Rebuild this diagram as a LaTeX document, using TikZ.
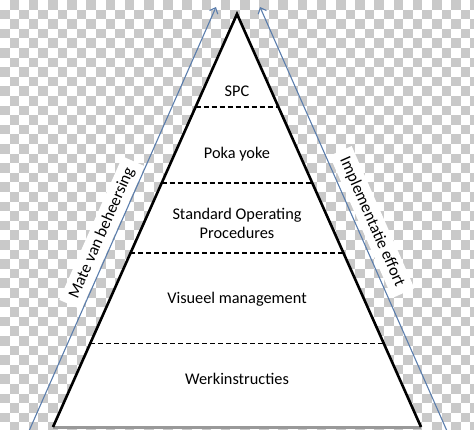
\documentclass[tikz,border=0pt]{standalone}
\usepackage{fontspec}
\setmainfont{Carlito}
\usetikzlibrary{calc,arrows.meta}
\definecolor{pijl}{RGB}{90,125,172}
\tikzset{
laag/.style={font=\fontsize{16.3}{19}\selectfont, align=center},
zijlabel/.style={font=\fontsize{16.5}{19}\selectfont, fill=white, inner xsep=8pt, inner ysep=5pt},
scheiding/.style={line width=1.3pt, dash pattern=on 5pt off 3pt},
pijlstijl/.style={pijl, line width=1.1pt, -{Straight Barb[length=5pt,width=9pt]}}
}
\begin{document}
\begin{tikzpicture}[x=1pt,y=-1pt]
\useasboundingbox (0,0) rectangle (474,429);
% achtergrond
\foreach \j [evaluate=\j as \off using {int(mod(\j+1,2))}] in {0,...,44}
{
\foreach \i in {0,...,24}
\fill[gray!42] ({(2*\i+\off)*9.6},{\j*9.6}) rectangle +(9.6,9.6);
}
\coordinate (top) at (237,14);
\coordinate (bl) at (53,427);
\coordinate (br) at (421,427);
\fill[white] (top) -- (bl) -- (br) -- cycle;
\draw[gray!80, line width=3pt] (bl) -- (br);
\draw[line width=2.6pt, line join=miter] (bl) -- (top) -- (br);
\foreach \t in {0.225,0.409,0.579,0.797}
\draw[scheiding] ($(top)!\t!(bl)$) -- ($(top)!\t!(br)$);
\node[laag] (spc) at (237,91) {SPC};
\node[laag] (poka) at (237,154) {Poka yoke};
\node[laag] (sop) at (237,223) {Standard Operating\\Procedures};
\node[laag] (visueel) at (237,299) {Visueel management};
\node[laag] (werk) at (237,379) {Werkinstructies};
\node[zijlabel, rotate=66.2] (beheersing) at (102,233) {Mate van beheersing};
\node[zijlabel, rotate=-66.2] (effort) at (372,222) {Implementatie effort};
\coordinate (lvoet) at (29,431);
\coordinate (lpunt) at (216,7);
\coordinate (rvoet) at (447,431);
\coordinate (rpunt) at (260,7);
\draw[pijlstijl] (lvoet) -- (lpunt);
\draw[pijlstijl] (rvoet) -- (rpunt);
\end{tikzpicture}
\end{document}
